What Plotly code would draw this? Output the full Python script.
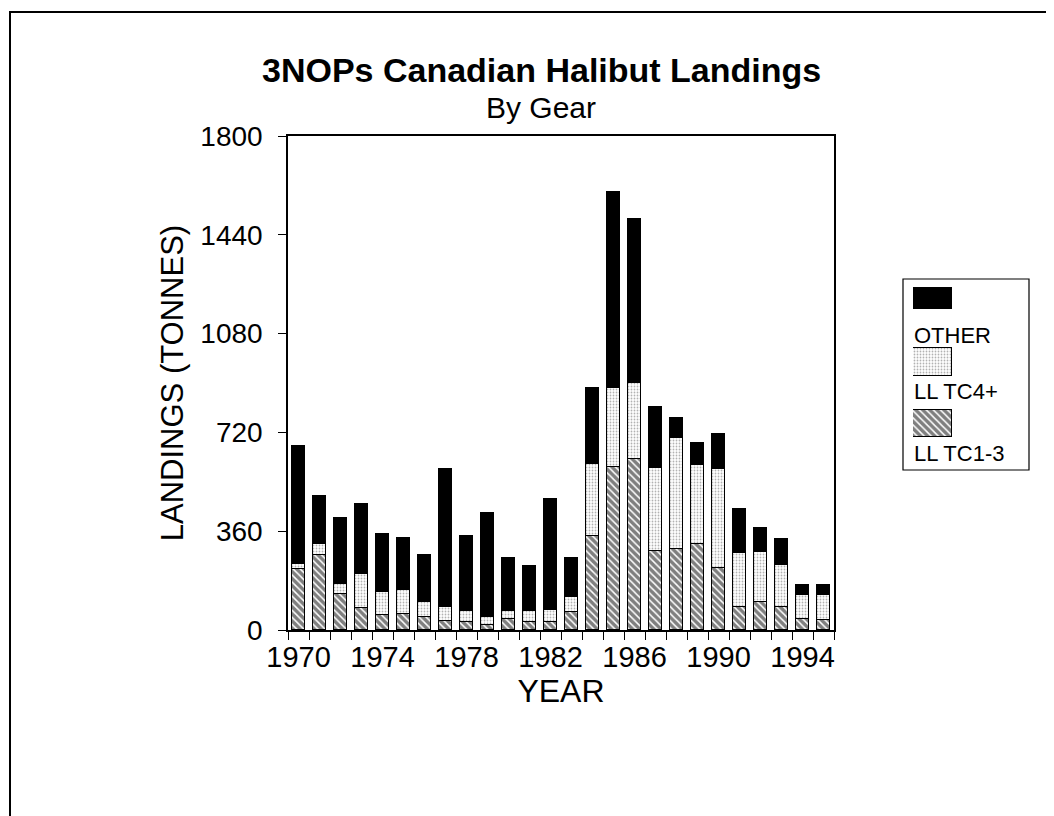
import plotly.graph_objects as go

years = list(range(1970, 1996))
ll_tc13 = [224, 273, 131, 82, 55, 60, 46, 34, 30, 18, 39, 30, 30, 64,
           342, 594, 622, 288, 295, 315, 227, 84, 102, 84, 39, 36]
ll_tc4 = [18, 42, 36, 122, 84, 85, 57, 51, 39, 30, 31, 40, 43, 57,
          264, 287, 277, 302, 406, 285, 361, 197, 183, 152, 88, 91]
other = [427, 172, 241, 254, 210, 192, 171, 500, 272, 380, 191, 163, 406, 140,
         275, 715, 600, 222, 72, 81, 127, 159, 87, 97, 37, 37]

y_ticks = [0, 360, 720, 1080, 1440, 1800]
x_ticks = [1970, 1974, 1978, 1982, 1986, 1990, 1994]
series_names = ["LL TC1-3", "LL TC4+", "OTHER"]

FONT = "Liberation Sans, Arial, Helvetica, sans-serif"

# page geometry (pixels); the html body adds an 8px offset
OFF = 8
W, H = 1046, 808
ML, MR, MT, MB = 280, 10, 128, 186
PW = W - ML - MR
PH = H - MT - MB


def px(x):
    return (x - OFF - ML) / PW


def py(y):
    return (OFF + H - MB - y) / PH


hatch = dict(shape="\\", fgcolor="black", bgcolor="white", size=5, solidity=0.7)
dots = dict(shape=".", fgcolor="#666666", bgcolor="white", size=3, solidity=0.28)
solid = dict(shape="")

styles = [hatch, dots, solid]
colors = ["white", "white", "black"]
values = [ll_tc13, ll_tc4, other]

fig = go.Figure()
for name, vals, pat, col in zip(series_names, values, styles, colors):
    fig.add_trace(go.Bar(
        x=years, y=vals, name=name, width=0.64,
        marker=dict(color=col, pattern=pat, line=dict(color="black", width=1)),
        showlegend=False,
    ))

# legend swatches drawn on a small helper axis
legend_y = [13.5, 75, 139]
legend_h = [27, 28, 22]
for name, pat, col, yy, hh in zip(series_names, styles, colors, legend_y, legend_h):
    fig.add_trace(go.Bar(
        x=[1], y=[yy], width=[hh], base=[0], orientation="h",
        marker=dict(color=col, pattern=pat, line=dict(color="black", width=1)),
        xaxis="x2", yaxis="y2", showlegend=False, hoverinfo="skip",
    ))

fig.update_layout(
    width=W, height=H,
    margin=dict(l=ML, r=MR, t=MT, b=MB),
    paper_bgcolor="white", plot_bgcolor="white",
    barmode="stack",
    font=dict(family=FONT, color="black"),
    xaxis=dict(
        domain=[0, px(834)],
        range=[1969.5, 1995.5],
        tickmode="array", tickvals=x_ticks, ticktext=[str(v) for v in x_ticks],
        ticks="outside", ticklen=0, tickfont=dict(size=29),
        minor=dict(tickmode="linear", tick0=1969.5, dtick=1, ticks="outside",
                   ticklen=8, tickcolor="black", tickwidth=1),
        showline=True, linecolor="black", linewidth=1.5, mirror=True,
        showgrid=False, zeroline=False,
        title=dict(text="YEAR", font=dict(size=32), standoff=4),
    ),
    yaxis=dict(
        range=[0, 1800],
        tickmode="array", tickvals=y_ticks,
        ticks="outside", ticklen=8, tickcolor="black", tickwidth=1,
        tickfont=dict(size=28), ticklabelstandoff=10,
        showline=True, linecolor="black", linewidth=1.5, mirror=True,
        showgrid=False, zeroline=False,
        title=dict(text="LANDINGS (TONNES)", font=dict(size=31), standoff=8),
    ),
    xaxis2=dict(domain=[px(913), px(952)], range=[0, 1], visible=False,
                anchor="y2", fixedrange=True),
    yaxis2=dict(domain=[py(437), py(287)], range=[0, 150], visible=False,
                anchor="x2", fixedrange=True),
    bargap=0,
)

fig.add_annotation(text="<b>3NOPs Canadian Halibut Landings</b>", x=px(541), y=py(70),
                   xref="paper", yref="paper", xanchor="center", yanchor="middle",
                   showarrow=False, font=dict(size=34, family=FONT))
fig.add_annotation(text="By Gear", x=px(541), y=py(108),
                   xref="paper", yref="paper", xanchor="center", yanchor="middle",
                   showarrow=False, font=dict(size=30, family=FONT))

legend_text_y = [453, 391, 335]
for name, ty in zip(series_names, legend_text_y):
    fig.add_annotation(text=name, x=px(912), y=py(ty), xref="paper", yref="paper",
                       xanchor="left", yanchor="middle", showarrow=False,
                       font=dict(size=22, family=FONT))

# legend box
fig.add_shape(type="rect", xref="paper", yref="paper",
              x0=px(903), x1=px(1029), y0=py(470), y1=py(279),
              line=dict(color="black", width=1.2), fillcolor="rgba(0,0,0,0)", layer="below")
# page frame (top and left edges visible)
fig.add_shape(type="rect", xref="paper", yref="paper",
              x0=px(10), x1=px(1080), y0=py(840), y1=py(12),
              line=dict(color="black", width=2), fillcolor="rgba(0,0,0,0)", layer="below")

fig.write_html("out.html")
